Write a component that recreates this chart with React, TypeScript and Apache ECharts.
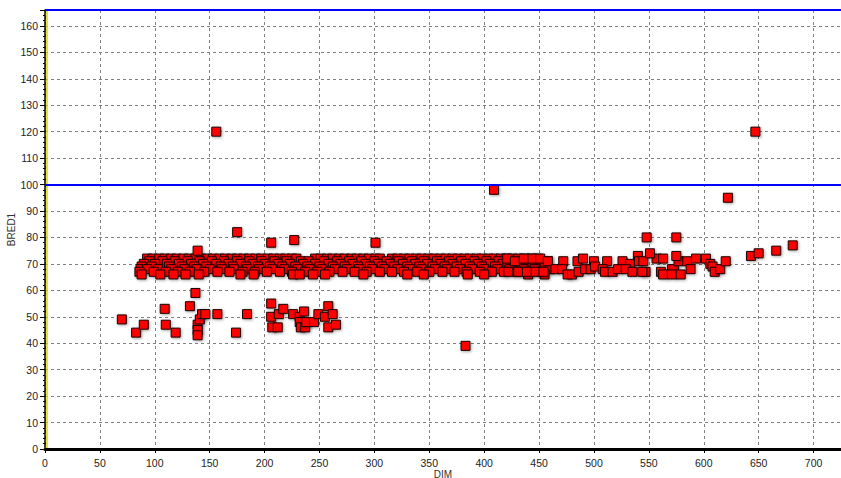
import { useEffect, useRef } from 'react';
import * as echarts from 'echarts';

// Dense herd band, one array of DIM values per BRED1 level
const band72X = [93, 98, 104, 109, 115, 120, 126, 131, 137, 142, 148, 153, 159, 164, 170, 175, 181, 186, 192, 197, 203, 208, 214, 219, 225, 229, 246, 251, 257, 262, 268, 273, 279, 284, 290, 295, 301, 305, 316, 321, 327, 332, 338, 343, 349, 354, 360, 365, 371, 376, 382, 387, 393, 398, 404, 409, 415, 420, 426, 431, 437, 443, 449];
const band71X = [95, 107, 118, 130, 141, 152, 163, 175, 186, 197, 209, 220, 233, 240, 254, 266, 277, 288, 300, 311, 322, 334, 345, 357, 368, 379, 391, 402, 413, 425, 436, 447, 458];
const band70X = [90, 100, 111, 122, 133, 144, 156, 167, 178, 189, 200, 212, 223, 235, 246, 258, 269, 280, 292, 303, 314, 326, 337, 348, 360, 371, 383, 394, 405, 417, 428, 440, 451];
const band69X = [88, 97, 113, 125, 136, 147, 160, 171, 183, 194, 205, 216, 228, 239, 250, 262, 273, 285, 296, 307, 318, 330, 341, 353, 364, 375, 387, 398, 410, 421, 433, 444, 455];
const band68X = [87, 93, 103, 115, 127, 138, 150, 161, 172, 184, 195, 207, 218, 230, 241, 252, 264, 275, 286, 298, 309, 321, 332, 343, 355, 366, 378, 389, 400, 412, 423, 435, 446, 460];
const band67X = [86, 99, 110, 121, 132, 145, 157, 168, 180, 191, 202, 214, 225, 237, 248, 259, 271, 282, 293, 305, 316, 327, 339, 350, 362, 373, 384, 396, 407, 418, 430, 441, 452];
const band66X = [88, 105, 117, 128, 140, 178, 190, 226, 232, 244, 255, 290, 330, 345, 385, 400, 440, 455];
const bandLevels = [72, 71, 70, 69, 68, 67, 66];

// Sparser late-lactation cows [DIM, BRED1]
const latePoints = [
  [421, 72], [428, 71], [436, 72], [444, 72], [451, 72], [458, 71], [472, 71], [485, 71], [490, 72], [500, 71],
  [512, 71], [526, 71], [533, 70], [540, 73], [541, 71], [545, 71], [547, 67], [557, 72], [563, 72], [561, 67],
  [571, 68], [573, 68], [577, 71], [585, 71], [593, 72], [588, 68], [563, 66], [571, 66], [579, 66],
  [422, 67], [431, 67], [439, 67], [447, 67], [454, 67], [465, 68], [471, 68], [476, 66], [480, 66], [486, 67],
  [492, 68], [497, 68], [501, 69], [508, 68], [510, 67], [517, 67], [522, 68], [529, 68], [535, 67], [544, 67],
  [602, 72], [606, 70], [608, 69], [610, 67], [615, 68], [620, 71],
];

// High values
const highPoints = [
  [156, 120], [647, 120], [409, 98], [622, 95], [175, 82], [548, 80], [575, 80], [206, 78], [227, 79], [301, 78],
  [139, 75], [551, 74], [575, 73], [643, 73], [650, 74], [666, 75], [681, 77],
];

// Low values
const lowPoints = [
  [70, 49], [83, 44], [90, 47], [109, 53], [110, 47], [119, 44], [132, 54], [137, 59], [139, 47], [139, 45],
  [139, 43], [141, 49], [143, 51], [146, 51], [157, 51], [174, 44], [184, 51], [206, 55], [206, 50], [207, 46],
  [212, 46], [213, 51], [217, 53], [226, 51], [232, 50], [232, 48], [233, 46], [236, 52], [237, 46], [238, 48],
  [245, 48], [249, 51], [255, 50], [258, 54], [262, 51], [258, 46], [265, 47], [383, 39],
];

const limitLines = [100, 166];

const FONT = '"Liberation Sans", Arial, sans-serif';

export default function App() {
  const ref = useRef<HTMLDivElement>(null);

  useEffect(() => {
    if (!ref.current) return;
    const chart = echarts.init(ref.current, undefined, { renderer: 'svg' });

    const bandArrays = [band72X, band71X, band70X, band69X, band68X, band67X, band66X];
    const data: number[][] = [];
    lowPoints.forEach((p) => data.push(p));
    bandArrays.forEach((xs, i) => xs.forEach((x) => data.push([x, bandLevels[i]])));
    latePoints.forEach((p) => data.push(p));
    highPoints.forEach((p) => data.push(p));

    const gridLine = { show: true, lineStyle: { color: '#808080', type: [3, 3] as any, width: 1 } };

    chart.setOption({
      animation: false,
      backgroundColor: '#ffffff',
      grid: { left: 45, top: 10, right: 0, bottom: 29, containLabel: false, outerBoundsMode: 'none' },
      xAxis: {
        type: 'value',
        min: 0,
        max: 725,
        interval: 50,
        name: 'DIM',
        nameLocation: 'middle',
        nameGap: 20,
        nameMoveOverlap: false,
        nameTextStyle: { fontSize: 10, color: '#333', fontFamily: FONT },
        axisLine: { show: true, onZero: false, lineStyle: { color: '#000', width: 3 } },
        axisTick: { show: true, length: 4, lineStyle: { color: '#000' } },
        minorTick: { show: true, splitNumber: 4, length: 2, lineStyle: { color: '#000' } },
        axisLabel: {
          margin: 8,
          fontSize: 10.5,
          color: '#222',
          fontFamily: FONT,
          formatter: (v: number) => (v % 50 === 0 ? String(v) : ''),
        },
        splitLine: gridLine,
      },
      yAxis: [
        {
          type: 'value',
          min: 0,
          max: 166,
          interval: 10,
          name: 'BRED1',
          nameLocation: 'middle',
          nameGap: 29,
          nameMoveOverlap: false,
          nameTextStyle: { fontSize: 10, color: '#333', fontFamily: FONT },
          axisLine: { show: true, onZero: false, lineStyle: { color: '#000', width: 1.5 } },
          axisTick: { show: true, length: 5, lineStyle: { color: '#000' } },
          minorTick: { show: true, splitNumber: 5, length: 2, lineStyle: { color: '#000' } },
          axisLabel: {
            margin: 7,
            fontSize: 10.5,
            color: '#222',
            fontFamily: FONT,
            formatter: (v: number) => (v % 10 === 0 ? String(v) : ''),
          },
          splitLine: gridLine,
        },
        {
          type: 'value',
          min: 0,
          max: 166,
          interval: 10,
          position: 'left',
          offset: -1.5,
          axisLine: { show: true, onZero: false, lineStyle: { color: '#d8d800', width: 1.5 } },
          axisTick: { show: false },
          axisLabel: { show: false },
          splitLine: { show: false },
        },
      ],
      series: [
        {
          type: 'scatter',
          yAxisIndex: 0,
          symbol: 'rect',
          symbolSize: 9,
          data,
          itemStyle: {
            color: '#ff0000',
            borderColor: '#1a0000',
            borderWidth: 1,
            opacity: 1,
            shadowColor: 'rgba(0,0,0,0.35)',
            shadowBlur: 3,
            shadowOffsetX: 1,
            shadowOffsetY: 1,
          },
          emphasis: { disabled: true },
          markLine: {
            silent: true,
            symbol: 'none',
            label: { show: false },
            lineStyle: { color: '#0000ff', width: 2, type: 'solid' },
            data: limitLines.map((v) => ({ yAxis: v })),
          },
        },
      ],
    });

    return () => chart.dispose();
  }, []);

  return (
    <div
      ref={ref}
      style={{ position: 'fixed', left: 0, top: 0, width: 841, height: 478, background: '#fff' }}
    />
  );
}
